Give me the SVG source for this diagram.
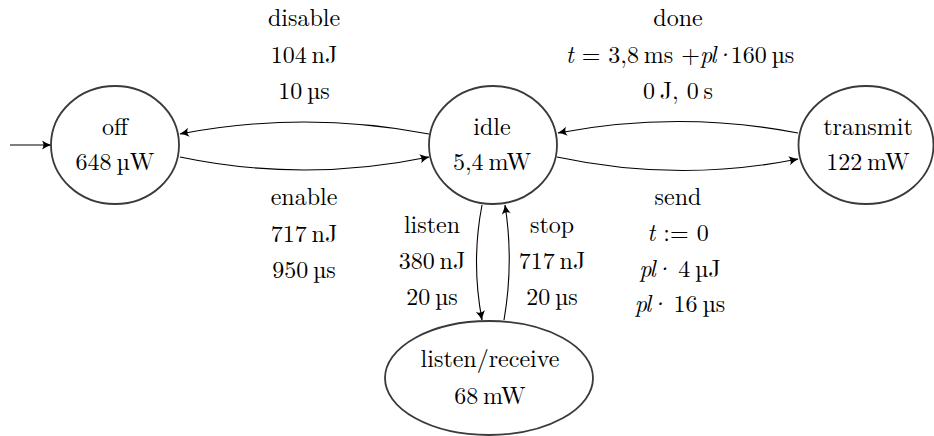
<svg xmlns="http://www.w3.org/2000/svg" width="934" height="436" viewBox="0 0 934 436">
  <style>
    .state { fill: #ffffff; stroke: #3a3a3a; stroke-width: 1.8; }
    .edge { fill: none; stroke: #000000; stroke-width: 1.1; marker-end: url(#tip); }
    text { font-family: 'Latin Modern Roman', 'Liberation Serif', serif; font-size: 24px; fill: #000000; text-anchor: middle; }
    .m { font-style: italic; }
    .pl { font-style: italic; letter-spacing: -2px; }
  </style>
  <defs>
    <!-- curved-back arrow tip shared by every transition -->
    <marker id="tip" viewBox="-12 -6 14 12" refX="0" refY="0" markerWidth="14" markerHeight="12" markerUnits="userSpaceOnUse" orient="auto">
      <path d="M0.5,0 Q-4,-1.2 -9,-4.6 Q-6,0 -9,4.6 Q-4,1.2 0.5,0 Z" fill="#000000"/>
    </marker>
  </defs>

  <!-- transitions -->
  <g id="connectors">
    <path class="edge" d="M10,145 L51,145"/>
    <path class="edge" d="M429,134 Q304,110 180,134"/>
    <path class="edge" d="M180,157 Q304,183 429,157"/>
    <path class="edge" d="M798,133 Q678,110 558,133"/>
    <path class="edge" d="M557,157 Q678,183 798,159"/>
    <path class="edge" d="M482,205 Q471,262 482,320"/>
    <path class="edge" d="M504,320 Q514,262 505,205"/>
  </g>

  <g id="off">
    <ellipse class="state" cx="115" cy="145" rx="64" ry="59"/>
    <text x="115" y="135">off</text>
    <text x="115" y="170">648&#8201;µW</text>
  </g>

  <g id="idle">
    <ellipse class="state" cx="493" cy="145" rx="64" ry="59"/>
    <text x="492" y="135">idle</text>
    <text x="492" y="170">5,4&#8201;mW</text>
  </g>

  <g id="transmit">
    <ellipse class="state" cx="866" cy="145" rx="67.5" ry="59"/>
    <text x="868" y="135">transmit</text>
    <text x="868" y="170">122&#8201;mW</text>
  </g>

  <g id="listen-receive">
    <ellipse class="state" cx="489" cy="378" rx="104" ry="57"/>
    <text x="490" y="367">listen/receive</text>
    <text x="490" y="404">68&#8201;mW</text>
  </g>

  <!-- transition labels -->
  <g id="label-disable">
    <text x="304" y="26">disable</text>
    <text x="304" y="62.5">104&#8201;nJ</text>
    <text x="304" y="99">10&#8201;µs</text>
  </g>
  <g id="label-enable">
    <text x="304" y="205">enable</text>
    <text x="304" y="241.5">717&#8201;nJ</text>
    <text x="304" y="277.5">950&#8201;µs</text>
  </g>
  <g id="label-done">
    <text x="678" y="26">done</text>
    <text x="680" y="62.5"><tspan class="m">t</tspan> = 3,8&#8201;ms +<tspan class="pl">pl·</tspan>160&#8201;µs</text>
    <text x="678" y="99">0&#8201;J, 0&#8201;s</text>
  </g>
  <g id="label-send">
    <text x="678" y="205">send</text>
    <text x="678" y="241"><tspan class="m">t</tspan> := 0</text>
    <text x="680" y="277"><tspan class="pl">pl·</tspan> 4&#8201;µJ</text>
    <text x="680" y="312"><tspan class="pl">pl·</tspan> 16&#8201;µs</text>
  </g>
  <g id="label-listen">
    <text x="432" y="233">listen</text>
    <text x="432" y="269">380&#8201;nJ</text>
    <text x="432" y="305">20&#8201;µs</text>
  </g>
  <g id="label-stop">
    <text x="552" y="233">stop</text>
    <text x="552" y="269">717&#8201;nJ</text>
    <text x="552" y="305">20&#8201;µs</text>
  </g>
</svg>
